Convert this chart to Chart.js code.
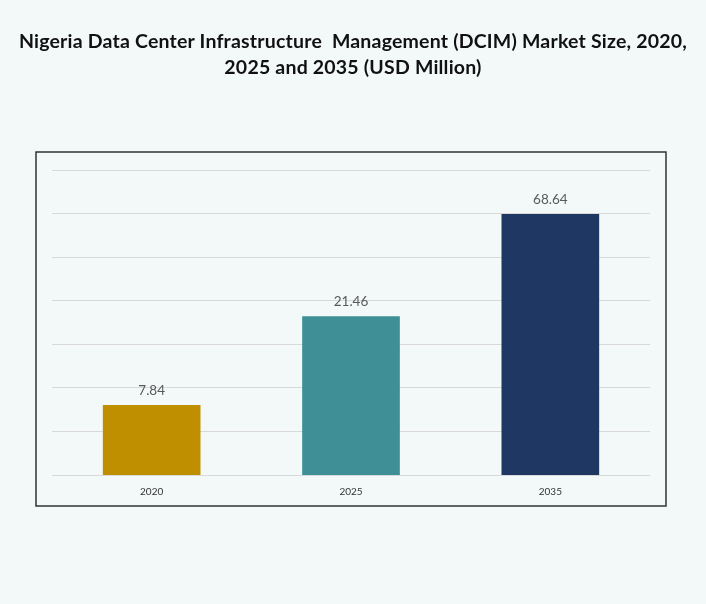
<!DOCTYPE html>
<html>
<head>
<meta charset="utf-8">
<script src="https://cdn.jsdelivr.net/npm/chart.js@4.4.1/dist/chart.umd.min.js"></script>
<style>
  html, body { margin: 0; padding: 0; background: #F3F9F9; }
  #wrap { position: relative; width: 706px; height: 604px; }
  canvas { display: block; }
  #title {
    position: absolute; left: 0; top: 28px; width: 706px;
    text-align: center; font-family: Lato, 'DejaVu Sans', sans-serif;
    font-weight: bold; font-size: 19.5px; line-height: 26px;
    letter-spacing: 0.2px; color: #111111; white-space: pre;
  }
</style>
</head>
<body>
<div id="wrap">
  <canvas id="c" width="706" height="604"></canvas>
  <div id="title"></div>
</div>
<script>
const categories = ["2020", "2025", "2035"];
const values = [7.84, 21.46, 68.64];
const valueLabels = ["7.84", "21.46", "68.64"];
const barColors = ["#BF8F00", "#3F8F96", "#1F3763"];
const titleLines = [
  "Nigeria Data Center Infrastructure  Management (DCIM) Market Size, 2020,",
  "2025 and 2035 (USD Million)"
];

document.getElementById("title").textContent = titleLines.join("\n");

const frame = {
  id: "frame",
  beforeDraw(chart) {
    const ctx = chart.ctx;
    ctx.save();
    ctx.fillStyle = "#F3F9F9";
    ctx.fillRect(0, 0, chart.width, chart.height);
    ctx.strokeStyle = "#333333";
    ctx.lineWidth = 1.5;
    ctx.strokeRect(36, 152, 630, 354);
    ctx.restore();
  }
};

const barLabels = {
  id: "barLabels",
  afterDatasetsDraw(chart) {
    const ctx = chart.ctx;
    const meta = chart.getDatasetMeta(0);
    ctx.save();
    ctx.font = "13.5px Lato, 'DejaVu Sans', sans-serif";
    ctx.fillStyle = "#595959";
    ctx.textAlign = "center";
    ctx.textBaseline = "middle";
    meta.data.forEach((bar, i) => {
      ctx.fillText(valueLabels[i], bar.x, bar.y - 14.5);
    });
    ctx.restore();
  }
};

new Chart(document.getElementById("c"), {
  type: "bar",
  data: {
    labels: categories,
    datasets: [{
      data: values,
      backgroundColor: barColors,
      borderWidth: 0,
      barPercentage: 0.7,
      categoryPercentage: 0.7
    }]
  },
  options: {
    responsive: false,
    animation: false,
    devicePixelRatio: 1,
    layout: { padding: { top: 170, left: 52, right: 56, bottom: 95 } },
    plugins: {
      legend: { display: false },
      tooltip: { enabled: false },
      title: { display: false }
    },
    scales: {
      x: {
        grid: { display: false, drawTicks: false },
        border: { display: false },
        ticks: { color: "#333333", font: { family: "Lato, 'DejaVu Sans', sans-serif", size: 10 }, padding: 11 }
      },
      y: {
        type: "logarithmic",
        display: false,
        min: 3.544,
        max: 112.97
      },
      grid: {
        type: "linear",
        position: "left",
        min: 0,
        max: 7,
        grid: { color: "#D9D9D9", lineWidth: 1, drawTicks: false },
        border: { display: false },
        ticks: { display: false, stepSize: 1 }
      }
    }
  },
  plugins: [frame, barLabels]
});
</script>
</body>
</html>
